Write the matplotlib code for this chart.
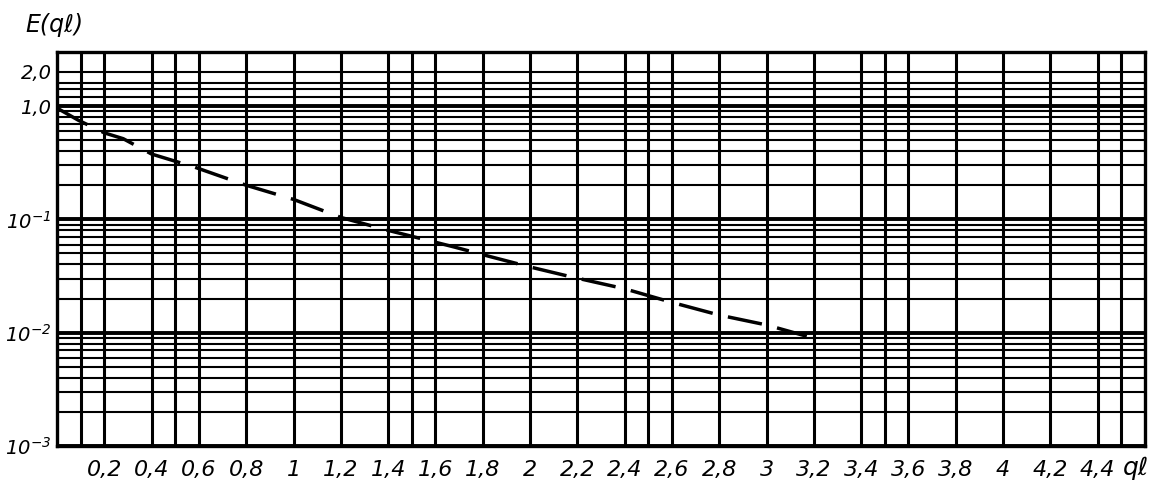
import numpy as np
import matplotlib.pyplot as plt
from matplotlib.ticker import FixedLocator, FixedFormatter

# Texto matemático em itálico (inclusive os dígitos)
plt.rcParams['mathtext.fontset'] = 'custom'
plt.rcParams['mathtext.rm'] = 'DejaVu Sans:italic'
plt.rcParams['mathtext.it'] = 'DejaVu Sans:italic'

# Dados (curva tracejada)
ql = [0.0, 0.09, 0.2, 0.28, 0.4, 0.58, 0.8, 1.0, 1.2, 1.4, 1.68, 1.83,
      2.0, 2.16, 2.4, 2.6, 2.8, 3.0, 3.17]
E = [0.96, 0.75, 0.58, 0.515, 0.377, 0.29, 0.20, 0.15, 0.104, 0.080, 0.057,
     0.047, 0.038, 0.0316, 0.0244, 0.0185, 0.0143, 0.0117, 0.0093]

# Eixo x: posições rotuladas e linhas extras da grade
x_ticks = [0.2, 0.4, 0.6, 0.8, 1.0, 1.2, 1.4, 1.6, 1.8, 2.0, 2.2, 2.4, 2.6,
           2.8, 3.0, 3.2, 3.4, 3.6, 3.8, 4.0, 4.2, 4.4]
x_labels = ['0,2', '0,4', '0,6', '0,8', '1', '1,2', '1,4', '1,6', '1,8', '2',
            '2,2', '2,4', '2,6', '2,8', '3', '3,2', '3,4', '3,6', '3,8', '4',
            '4,2', '4,4']
x_extra = [0.1, 0.5, 1.5, 2.5, 3.5, 4.5]

# Eixo y (log)
y_decades = [1e-3, 1e-2, 1e-1, 1.0]
y_dec_labels = ['$10^{-3}$', '$10^{-2}$', '$10^{-1}$', '1,0']
y_minor = [m * d for d in [1e-3, 1e-2, 1e-1] for m in range(2, 10)] + [1.2, 1.4, 1.6, 2.0]

fig = plt.figure(figsize=(11.54, 4.96), dpi=100)
ax = fig.add_axes([0.0494, 0.1008, 0.9428, 0.7944])

ax.set_yscale('log')
ax.set_xlim(0, 4.6)
ax.set_ylim(1e-3, 3.0)

ax.xaxis.set_major_locator(FixedLocator(x_ticks))
ax.xaxis.set_major_formatter(FixedFormatter(x_labels))
ax.xaxis.set_minor_locator(FixedLocator(x_extra))
ax.xaxis.set_minor_formatter(FixedFormatter([''] * len(x_extra)))

ax.yaxis.set_major_locator(FixedLocator(y_decades))
ax.yaxis.set_major_formatter(FixedFormatter(y_dec_labels))
ax.yaxis.set_minor_locator(FixedLocator(y_minor))
ax.yaxis.set_minor_formatter(FixedFormatter(['' if v != 2.0 else '2,0' for v in y_minor]))

for lab in ax.get_xticklabels():
    lab.set_fontsize(16)
    lab.set_style('italic')
for lab in ax.get_yticklabels() + ax.get_yticklabels(minor=True):
    lab.set_fontsize(14)
    lab.set_style('italic')

ax.tick_params(which='both', length=0)
ax.tick_params(axis='x', which='major', pad=10)
ax.tick_params(axis='y', which='both', pad=4)

# Grade
ax.grid(True, axis='x', which='both', color='black', lw=2.2)
ax.grid(True, axis='y', which='major', color='black', lw=2.8)
ax.grid(True, axis='y', which='minor', color='black', lw=1.5)
for s in ax.spines.values():
    s.set_linewidth(2.4)

ax.plot(ql, E, color='black', lw=2.5, ls=(0, (10, 4.5)), zorder=5)

fig.text(0.022, 0.935, 'E(qℓ)', fontsize=17, style='italic')
ax.text(4.56, -0.056, 'qℓ', ha='center', va='center', fontsize=18,
        style='italic', transform=ax.get_xaxis_transform())

fig.savefig('out.png', dpi=100)
